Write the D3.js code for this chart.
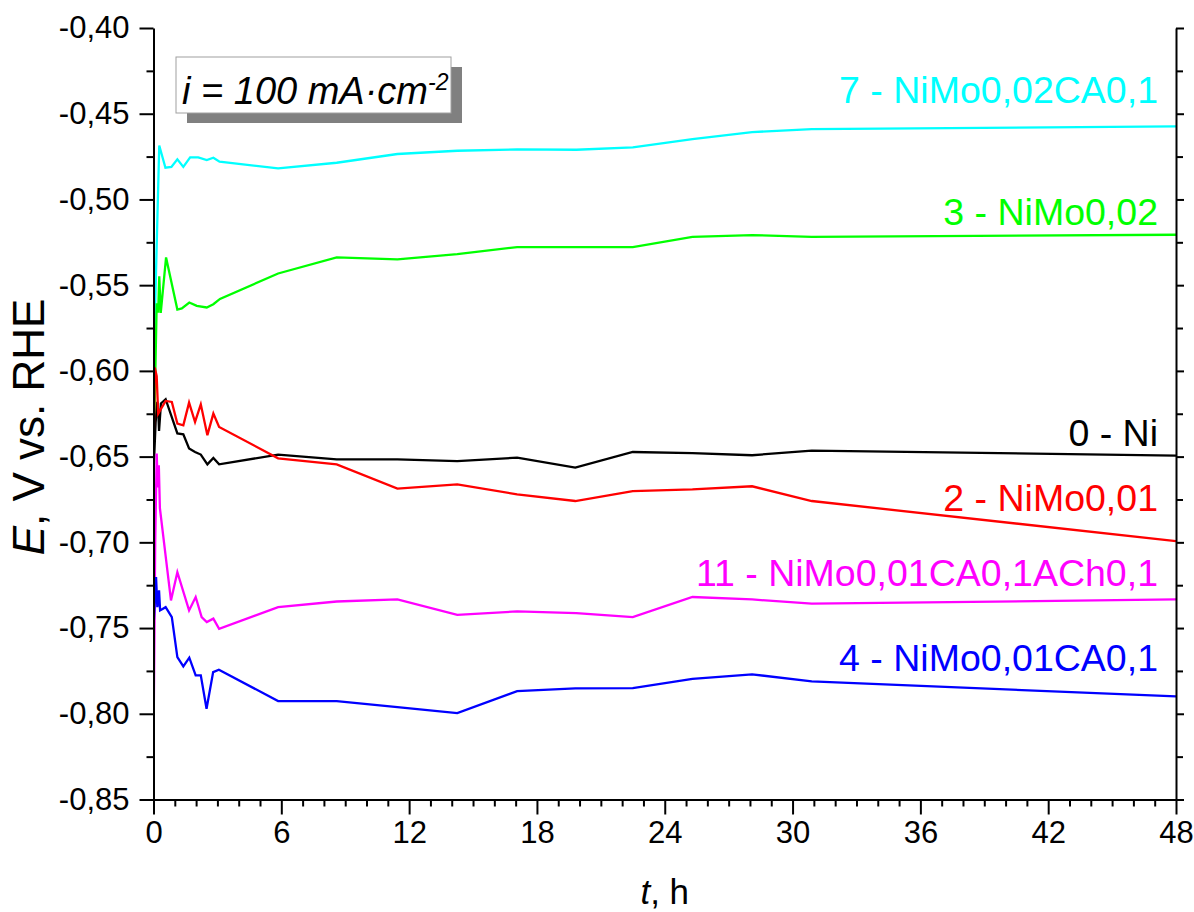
<!DOCTYPE html>
<html>
<head>
<meta charset="utf-8">
<script src="https://cdn.jsdelivr.net/npm/d3@7"></script>
<style>
  html, body { margin: 0; padding: 0; background: #fff; }
  svg { display: block; font-family: "Liberation Sans", Arial, sans-serif; }
</style>
</head>
<body>
<svg id="chart" width="1194" height="912"></svg>
<script>
// ---- data ----
const xMajorTicks = [0, 6, 12, 18, 24, 30, 36, 42, 48];
const yMajorTicks = [-0.40, -0.45, -0.50, -0.55, -0.60, -0.65, -0.70, -0.75, -0.80, -0.85];

const seriesNames = ["7 - NiMo0,02CA0,1", "3 - NiMo0,02", "0 - Ni", "2 - NiMo0,01", "11 - NiMo0,01CA0,1ACh0,1", "4 - NiMo0,01CA0,1"];
const seriesColors = ["#00FFFF", "#00FF00", "#000000", "#FF0000", "#FF00FF", "#0000FF"];

const tCyan = [0, 0.27, 0.56, 0.84, 1.12, 1.4, 1.72, 2.1, 2.5, 2.81, 3.1, 5.85, 8.6, 11.45, 14.26, 17.07, 19.85, 22.5, 25.3, 28.1, 30.9, 48];
const eCyan = [-0.60, -0.4685, -0.4815, -0.4810, -0.4766, -0.4810, -0.4755, -0.4755, -0.4770, -0.4757, -0.4780, -0.4819, -0.4786, -0.4735, -0.4716, -0.4708, -0.4710, -0.4696, -0.4648, -0.4607, -0.4590, -0.4574];

const tGreen = [0, 0.15, 0.22, 0.27, 0.34, 0.59, 1.12, 1.33, 1.68, 2.03, 2.5, 2.81, 3.12, 5.85, 8.6, 11.45, 14.26, 17.07, 19.85, 22.5, 25.3, 28.1, 30.9, 48];
const eGreen = [-0.655, -0.5605, -0.5660, -0.5448, -0.5662, -0.5338, -0.5642, -0.5636, -0.5601, -0.5621, -0.5630, -0.5611, -0.5580, -0.5432, -0.5338, -0.5350, -0.5319, -0.5278, -0.5278, -0.5278, -0.5218, -0.5208, -0.5218, -0.5206];

const tBlack = [0, 0.1, 0.18, 0.23, 0.26, 0.35, 0.57, 1.12, 1.4, 1.67, 1.95, 2.22, 2.53, 2.81, 3.08, 5.85, 8.6, 11.45, 14.26, 17.07, 19.8, 22.5, 25.3, 28.1, 30.9, 48];
const eBlack = [-0.660, -0.630, -0.618, -0.625, -0.635, -0.619, -0.6165, -0.6365, -0.6370, -0.6453, -0.6473, -0.6488, -0.6545, -0.6508, -0.6545, -0.6488, -0.6516, -0.6516, -0.6526, -0.6506, -0.6564, -0.6473, -0.6480, -0.6492, -0.6465, -0.6494];

const tRed = [0, 0.06, 0.15, 0.22, 0.31, 0.57, 0.86, 1.12, 1.4, 1.67, 1.95, 2.22, 2.53, 2.81, 3.08, 5.85, 8.6, 11.45, 14.26, 17.07, 19.8, 22.5, 25.3, 28.1, 30.9, 48];
const eRed = [-0.650, -0.598, -0.603, -0.625, -0.623, -0.6175, -0.6181, -0.6307, -0.6317, -0.6185, -0.6298, -0.6195, -0.6375, -0.6249, -0.6327, -0.6510, -0.6545, -0.6687, -0.6662, -0.6720, -0.6759, -0.6701, -0.6691, -0.6673, -0.6759, -0.6993];

const tMagenta = [0, 0.08, 0.15, 0.2, 0.25, 0.3, 0.82, 1.12, 1.67, 1.98, 2.26, 2.5, 2.81, 3.08, 5.85, 8.6, 11.45, 14.26, 17.07, 19.85, 22.5, 25.3, 28.1, 30.9, 48];
const eMagenta = [-0.820, -0.700, -0.6482, -0.668, -0.655, -0.680, -0.7339, -0.7174, -0.7397, -0.7319, -0.7436, -0.7465, -0.7445, -0.7504, -0.7378, -0.7345, -0.7333, -0.7423, -0.7403, -0.7413, -0.7436, -0.7319, -0.7333, -0.7358, -0.7333];

const tBlue = [0, 0.12, 0.18, 0.26, 0.31, 0.57, 0.86, 1.12, 1.4, 1.68, 1.98, 2.22, 2.49, 2.8, 3.07, 5.85, 8.6, 11.45, 14.26, 17.07, 19.8, 22.5, 25.3, 28.1, 30.9, 48];
const eBlue = [-0.750, -0.7203, -0.7378, -0.7280, -0.7397, -0.7378, -0.7436, -0.7670, -0.7724, -0.7673, -0.7776, -0.7776, -0.7971, -0.7757, -0.7743, -0.7926, -0.7926, -0.7961, -0.7996, -0.7868, -0.7852, -0.7850, -0.7796, -0.7770, -0.7811, -0.7899];

const seriesT = [tCyan, tGreen, tBlack, tRed, tMagenta, tBlue];
const seriesE = [eCyan, eGreen, eBlack, eRed, eMagenta, eBlue];
// E value at which each label's baseline sits
const labelE = [-0.4440, -0.5150, -0.6440, -0.6820, -0.7255, -0.7750];

// ---- layout ----
const svg = d3.select("#chart");
const m = { left: 153.5, right: 1176, top: 28, bottom: 799.5 };

const x = d3.scaleLinear().domain([0, 48]).range([m.left, m.right]);
const y = d3.scaleLinear().domain([-0.40, -0.85]).range([m.top, m.bottom]);

const loc = d3.formatLocale({ decimal: ",", thousands: ".", grouping: [3], currency: ["", ""], minus: "-" });
const fmtY = loc.format(".2f");

svg.append("defs").append("clipPath").attr("id", "clip")
  .append("rect").attr("x", m.left).attr("y", m.top)
  .attr("width", m.right - m.left).attr("height", m.bottom - m.top);

// data lines
const line = d3.line().x(d => x(d[0])).y(d => y(d[1]));
const lineG = svg.append("g").attr("clip-path", "url(#clip)");
seriesT.forEach((ts, i) => {
  const pts = ts.map((t, k) => [t, seriesE[i][k]]);
  lineG.append("path").datum(pts)
    .attr("d", line)
    .attr("fill", "none")
    .attr("stroke", seriesColors[i])
    .attr("stroke-width", 2.3)
    .attr("stroke-linejoin", "miter");
});

// axes
const yMinor = d3.range(-0.425, -0.85, -0.05);
const xMinor = d3.range(0, 49, 1).filter(v => v % 6 !== 0);

function styleAxis(g) {
  g.selectAll("path.domain").attr("stroke", "#000").attr("stroke-width", 2);
  g.selectAll(".tick line").attr("stroke", "#000").attr("stroke-width", 2);
  g.selectAll("text").attr("fill", "#000").style("font-size", "31px")
    .style("font-family", "'Liberation Sans', Arial, sans-serif");
}

// left
svg.append("g").attr("transform", `translate(${m.left},0)`)
  .call(d3.axisLeft(y).tickValues(yMinor).tickSize(7).tickFormat(""))
  .call(g => { g.select(".domain").remove(); styleAxis(g); });
svg.append("g").attr("transform", `translate(${m.left},0)`)
  .call(d3.axisLeft(y).tickValues(yMajorTicks).tickSize(14).tickSizeOuter(0).tickPadding(10).tickFormat(fmtY))
  .call(styleAxis);

// right (ticks inward)
svg.append("g").attr("transform", `translate(${m.right},0)`)
  .call(d3.axisLeft(y).tickValues(yMinor).tickSize(-7).tickFormat(""))
  .call(g => { g.select(".domain").remove(); styleAxis(g); });
svg.append("g").attr("transform", `translate(${m.right},0)`)
  .call(d3.axisLeft(y).tickValues(yMajorTicks).tickSize(-8).tickSizeOuter(0).tickFormat(""))
  .call(styleAxis);

// bottom
svg.append("g").attr("transform", `translate(0,${m.bottom})`)
  .call(d3.axisBottom(x).tickValues(xMinor).tickSize(7).tickFormat(""))
  .call(g => { g.select(".domain").remove(); styleAxis(g); });
svg.append("g").attr("transform", `translate(0,${m.bottom})`)
  .call(d3.axisBottom(x).tickValues(xMajorTicks).tickSize(15).tickSizeOuter(0).tickPadding(6).tickFormat(d3.format("d")))
  .call(styleAxis);

// axis titles
const yt = svg.append("text")
  .attr("transform", `translate(44,427) rotate(-90)`)
  .attr("text-anchor", "middle")
  .style("font-size", "44px").attr("fill", "#000");
yt.append("tspan").style("font-style", "italic").text("E");
yt.append("tspan").text(", V vs. RHE");

const xt = svg.append("text")
  .attr("x", (m.left + m.right) / 2).attr("y", 904)
  .attr("text-anchor", "middle")
  .style("font-size", "35px").attr("fill", "#000");
xt.append("tspan").style("font-style", "italic").text("t");
xt.append("tspan").text(", h");

// series labels
seriesNames.forEach((name, i) => {
  svg.append("text")
    .attr("x", 1158).attr("y", y(labelE[i]))
    .attr("text-anchor", "end")
    .style("font-size", "37.5px")
    .attr("fill", seriesColors[i])
    .text(name);
});

// annotation box with shadow
const bx = 176, by = 57, bw = 275, bh = 56;
svg.append("rect").attr("x", bx + 11).attr("y", by + 10).attr("width", bw).attr("height", bh).attr("fill", "#808080");
svg.append("rect").attr("x", bx).attr("y", by).attr("width", bw).attr("height", bh)
  .attr("fill", "#fff").attr("stroke", "#a0a0a0").attr("stroke-width", 1);
const ann = svg.append("text").attr("x", bx + 6).attr("y", by + 47)
  .style("font-size", "38px").style("font-style", "italic").attr("fill", "#000");
ann.append("tspan").text("i = 100 mA\u00B7cm");
ann.append("tspan").attr("dy", -14).style("font-size", "23px").text("-2");
</script>
</body>
</html>
